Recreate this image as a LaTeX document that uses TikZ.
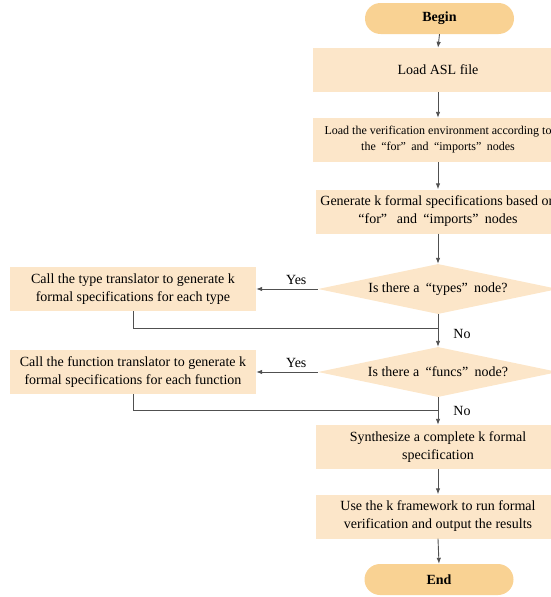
\documentclass[tikz,border=0pt]{standalone}
\usepackage{fontspec}
\setmainfont{Liberation Serif}
\usetikzlibrary{shapes.geometric,arrows.meta}
\definecolor{boxfill}{HTML}{FCE6C9}
\definecolor{pillfill}{HTML}{F9D293}
\definecolor{linec}{HTML}{505050}
\newcommand\cq[1]{\hspace{0.45em}“#1”\hspace{0.45em}}
\tikzset{
  procbox/.style={rectangle, fill=boxfill, draw=none, minimum width=250pt, minimum height=44pt, align=center, inner sep=2pt, font=\fontsize{14}{18}\selectfont},
  pill/.style={rectangle, rounded corners=15.5pt, fill=pillfill, draw=none, minimum width=149pt, minimum height=31pt, font=\fontsize{14}{17}\selectfont\bfseries},
  decision/.style={diamond, aspect=4.8, fill=boxfill, draw=none, minimum width=240pt, minimum height=50pt, inner sep=0pt, font=\fontsize{14}{17}\selectfont},
  conn/.style={draw=linec, line width=0.9pt},
  arr/.style={conn, -{Latex[length=6pt,width=4.5pt]}},
  lbl/.style={font=\fontsize{14}{17}\selectfont, inner sep=1pt}
}
\begin{document}
\begin{tikzpicture}[x=1pt,y=-1pt]
\useasboundingbox (0,0) rectangle (551,597);
\clip (0,0) rectangle (551,597);
\node[pill] (begin) at (439.5,18.5) {Begin};
\node[procbox] (load) at (438,70) {Load ASL file};
\node[procbox, font=\fontsize{12}{16}\selectfont] (env) at (438,140) {Load the verification environment according to\\the\cq{for}and\cq{imports}nodes};
\node[procbox, minimum width=244pt] (gen) at (438,211.5) {Generate k formal specifications based on\\“for”\hspace{0.45em} and\cq{imports}nodes};
\node[decision] (d1) at (438,289) {Is there a\cq{types}node?};
\node[procbox, minimum width=246pt] (tbox) at (133,289) {Call the type translator to generate k\\formal specifications for each type};
\node[decision] (d2) at (438,372) {Is there a\cq{funcs}node?};
\node[procbox, minimum width=246pt] (fbox) at (133,372) {Call the function translator to generate k\\formal specifications for each function};
\node[procbox, minimum width=244pt] (synth) at (438,447) {Synthesize a complete k formal\\specification};
\node[procbox, minimum width=244pt] (usek) at (438,516.5) {Use the k framework to run formal\\verification and output the results};
\node[pill] (end) at (439,579.5) {End};
\coordinate (j1) at (438,328);
\coordinate (j2) at (438,410);
\draw[arr] (begin.south) -- (load.north);
\draw[arr] (load.south) -- (env.north);
\draw[arr] (env.south) -- (gen.north);
\draw[arr] (gen.south) -- (d1.north);
\draw[arr] (d1.west) -- (tbox.east) node[lbl, pos=0.35, above=3pt] {Yes};
\draw[conn] (tbox.south) |- (j1);
\draw[arr] (d1.south) -- (d2.north) node[lbl, pos=0.6, right=14pt] {No};
\draw[arr] (d2.west) -- (fbox.east) node[lbl, pos=0.35, above=3pt] {Yes};
\draw[conn] (fbox.south) |- (j2);
\draw[arr] (d2.south) -- (synth.north) node[lbl, pos=0.5, right=14pt] {No};
\draw[arr] (synth.south) -- (usek.north);
\draw[arr] (usek.south) -- (end.north);
\end{tikzpicture}
\end{document}
